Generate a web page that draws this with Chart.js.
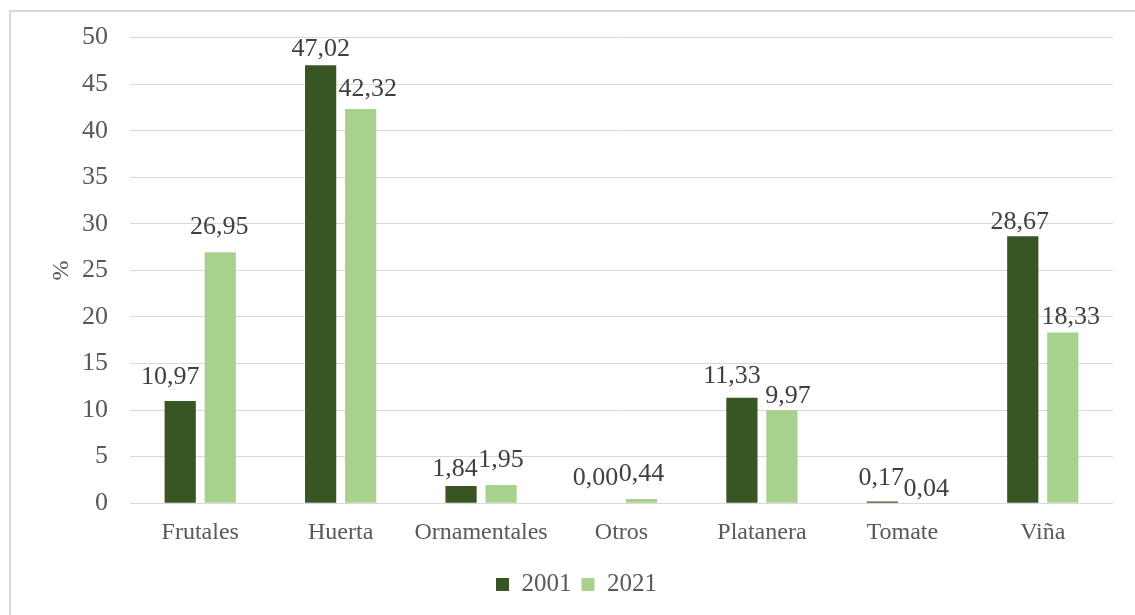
<!DOCTYPE html>
<html lang="es">
<head>
<meta charset="UTF-8">
<title>Cultivos 2001 - 2021</title>
<script src="https://cdn.jsdelivr.net/npm/chart.js@4.4.1/dist/chart.umd.min.js"></script>
<style>
    html, body { margin: 0; padding: 0; background: #fff; }
    #wrap { position: relative; width: 1135px; height: 615px; }
</style>
</head>
<body>
<div id="wrap"><canvas id="chart"></canvas></div>
<script>
    // categories and values (%)
    const categories = ['Frutales', 'Huerta', 'Ornamentales', 'Otros', 'Platanera', 'Tomate', 'Viña'];
    const values2001 = [10.97, 47.02, 1.84, 0.00, 11.33, 0.17, 28.67];
    const values2021 = [26.95, 42.32, 1.95, 0.44, 9.97, 0.04, 18.33];
    const seriesNames = ['2001', '2021'];

    const FONT = "'Liberation Serif', 'Times New Roman', serif";

    // hand-placed value labels in the original: [dx, gap above bar] in px
    const labelShift = [
        [[-10, 17], [0, 9], [-6, 10], [-6, 18], [-10, 15], [-1, 17], [-3, 7]],
        [[-1, 18], [7, 13], [0, 18], [0, 18], [6, 7], [4, 7], [8, 9]]
    ];

    // outer frame of the chart
    const framePlugin = {
        id: 'frame',
        beforeDraw(chart) {
            const ctx = chart.ctx;
            ctx.save();
            ctx.strokeStyle = '#d9d9d9';
            ctx.lineWidth = 2;
            ctx.strokeRect(10, 11, chart.width + 10, chart.height + 10);
            ctx.restore();
        }
    };

    // value labels above bars, with decimal comma
    const valueLabels = {
        id: 'valueLabels',
        afterDatasetsDraw(chart) {
            const ctx = chart.ctx;
            ctx.save();
            ctx.font = `26px ${FONT}`;
            ctx.fillStyle = '#404040';
            ctx.textAlign = 'center';
            ctx.textBaseline = 'alphabetic';
            chart.data.datasets.forEach((ds, i) => {
                chart.getDatasetMeta(i).data.forEach((bar, j) => {
                    const txt = ds.data[j].toFixed(2).replace('.', ',');
                    const [dx, gap] = labelShift[i][j];
                    ctx.fillText(txt, bar.x + dx, bar.y - gap);
                });
            });
            ctx.restore();
        }
    };

    new Chart(document.getElementById('chart'), {
        type: 'bar',
        data: {
            labels: categories,
            datasets: [
                { label: seriesNames[0], data: values2001, backgroundColor: '#375623' },
                { label: seriesNames[1], data: values2021, backgroundColor: '#a9d18e' }
            ]
        },
        options: {
            responsive: true,
            maintainAspectRatio: false,
            animation: false,
            categoryPercentage: 0.57,
            barPercentage: 0.78,
            layout: { padding: { left: 40, right: 22, top: 32, bottom: 8 } },
            scales: {
                x: {
                    grid: { display: false, drawTicks: false },
                    border: { display: false },
                    ticks: { color: '#595959', font: { family: FONT, size: 24 }, padding: 15 }
                },
                y: {
                    min: 0,
                    max: 50,
                    ticks: { stepSize: 5, color: '#595959', font: { family: FONT, size: 26 }, padding: 22 },
                    grid: { color: '#d9d9d9', lineWidth: 1, drawTicks: false },
                    border: { display: false },
                    title: { display: true, text: '%', color: '#595959', font: { family: FONT, size: 24 }, padding: { top: 7, bottom: 0 } },
                    afterFit(scale) { scale.width = 90; }
                }
            },
            plugins: {
                legend: {
                    position: 'bottom',
                    labels: {
                        color: '#595959',
                        font: { family: FONT, size: 25 },
                        boxWidth: 13,
                        boxHeight: 13,
                        padding: 10
                    }
                },
                tooltip: { enabled: false }
            }
        },
        plugins: [framePlugin, valueLabels]
    });
</script>
</body>
</html>
